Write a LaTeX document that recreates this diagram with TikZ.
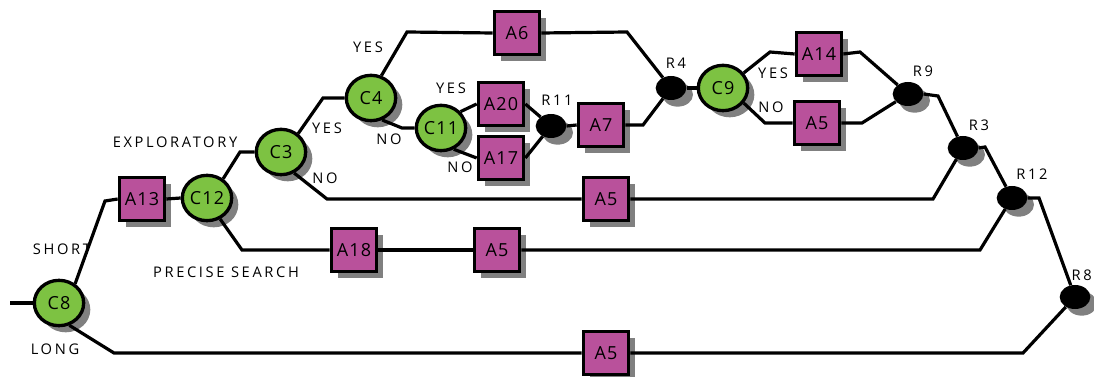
\documentclass[tikz,border=0pt]{standalone}
\usepackage{fontspec}
\setmainfont{Open Sans}
\newfontfamily\nodefont[LetterSpace=6]{Open Sans}
\newfontfamily\labelfont[LetterSpace=18]{Open Sans}
\usetikzlibrary{shapes.geometric,shadows}
\definecolor{condgreen}{RGB}{125,194,66}
\definecolor{actpurple}{RGB}{185,81,155}
\definecolor{shadowgray}{RGB}{128,128,128}
\tikzset{
  castshadow/.style={drop shadow={shadow xshift=5pt,shadow yshift=-5pt,fill=shadowgray,opacity=1}},
  cond/.style={ellipse,draw=black,line width=2.5pt,fill=condgreen,minimum width=37pt,minimum height=34pt,inner sep=0pt,castshadow,font=\nodefont\fontsize{13.5pt}{13.5pt}\selectfont},
  act/.style={rectangle,draw=black,line width=2.5pt,fill=actpurple,minimum width=34pt,minimum height=32pt,inner sep=0pt,castshadow,font=\nodefont\fontsize{13.5pt}{13.5pt}\selectfont},
  junct/.style={ellipse,fill=black,minimum width=23pt,minimum height=18pt,inner sep=0pt,castshadow},
  lbl/.style={font=\labelfont\fontsize{11pt}{11pt}\selectfont,inner sep=0pt},
  wire/.style={line width=2.4pt,line join=miter}
}
\begin{document}
\begin{tikzpicture}[x=0.75pt,y=-0.75pt]
\useasboundingbox (0,0) rectangle (1094,377);

% conditions
\node[cond] (c8) at (59,303) {C8};
\node[cond] (c12) at (207,198) {C12};
\node[cond] (c3) at (281,152) {C3};
\node[cond] (c4) at (371,98) {C4};
\node[cond] (c11) at (441,128) {C11};
\node[cond] (c9) at (723,88) {C9};

% activities
\node[act] (a13) at (142,199) {A13};
\node[act] (a6) at (517,33) {A6};
\node[act] (a20) at (501,104) {A20};
\node[act] (a17) at (501,158) {A17};
\node[act] (a7) at (601,125) {A7};
\node[act] (a14) at (819,54) {A14};
\node[act] (a5a) at (817,123) {A5};
\node[act] (a5b) at (606,199) {A5};
\node[act] (a18) at (354,250) {A18};
\node[act] (a5c) at (497,250) {A5};
\node[act] (a5d) at (606,353) {A5};

% junctions
\node[junct] (r11) at (551,126) {};
\node[junct] (r4) at (671,88) {};
\node[junct] (r9) at (908,94) {};
\node[junct] (r3) at (963,148) {};
\node[junct] (r12) at (1012,198) {};
\node[junct] (r8) at (1075,297) {};

% bend points
\coordinate (in) at (10,303);
\coordinate (k1) at (105,201);
\coordinate (k2) at (114,353);
\coordinate (k3) at (1023,353);
\coordinate (k4) at (240,152);
\coordinate (k5) at (242,250);
\coordinate (k6) at (980,250);
\coordinate (k7) at (323,98);
\coordinate (k8) at (327,199);
\coordinate (k9) at (933,199);
\coordinate (k10) at (407,32);
\coordinate (k11) at (627,32);
\coordinate (k12) at (402,128);
\coordinate (k13) at (643,125);
\coordinate (k14) at (770,52);
\coordinate (k15) at (765,123);
\coordinate (k16) at (860,52);
\coordinate (k17) at (862,123);
\coordinate (k18) at (938,96);
\coordinate (k19) at (985,147);
\coordinate (k20) at (1039,198);

% connectors
\draw[wire] (in) -- (c8.west);
\draw[wire] (c8.50) -- (k1) -- (a13.west);
\draw[wire] (c8.-65) -- (k2) -- (a5d.west);
\draw[wire] (a5d.east) -- (k3) -- (r8);
\draw[wire] (a13.east) -- (c12.west);
\draw[wire] (c12.50) -- (k4) -- (c3.west);
\draw[wire] (c12.-58) -- (k5) -- (a18.west);
\draw[wire] (a18.east) -- (a5c.west);
\draw[wire] (a5c.east) -- (k6) -- (r12);
\draw[wire] (c3.47) -- (k7) -- (c4.west);
\draw[wire] (c3.-58) -- (k8) -- (a5b.west);
\draw[wire] (a5b.east) -- (k9) -- (r3);
\draw[wire] (c4.65) -- (k10) -- (a6.west);
\draw[wire] (a6.east) -- (k11) -- (r4);
\draw[wire] (c4.-63) -- (k12) -- (c11.west);
\draw[wire] (c11.40) -- (a20.west);
\draw[wire] (c11.-59) -- (a17.west);
\draw[wire] (a20.east) -- (r11);
\draw[wire] (a17.east) -- (r11);
\draw[wire] (r11.east) -- (a7.west);
\draw[wire] (a7.east) -- (k13) -- (r4);
\draw[wire] (r4.east) -- (c9.west);
\draw[wire] (c9.36) -- (k14) -- (a14.west);
\draw[wire] (c9.-36) -- (k15) -- (a5a.west);
\draw[wire] (a14.east) -- (k16) -- (r9);
\draw[wire] (a5a.east) -- (k17) -- (r9);
\draw[wire] (r9.east) -- (k18) -- (r3);
\draw[wire] (r3.east) -- (k19) -- (r12);
\draw[wire] (r12.east) -- (k20) -- (r8);

% branch and junction labels
\node[lbl] (tshort) at (62,249) {SHORT};
\node[lbl] (tlong) at (55,349) {LONG};
\node[lbl] (tprecise) at (226,272) {PRECISE SEARCH};
\node[lbl] (texpl) at (175,142) {EXPLORATORY};
\node[lbl] (tyes3) at (327,128) {YES};
\node[lbl] (tno3) at (325,178) {NO};
\node[lbl] (tyes4) at (368,47) {YES};
\node[lbl] (tno4) at (389,139) {NO};
\node[lbl] (tyes11) at (451,88) {YES};
\node[lbl] (tno11) at (460,167) {NO};
\node[lbl] (tr11) at (557,100) {R11};
\node[lbl] (tr4) at (676,63) {R4};
\node[lbl] (tyes9) at (773,73) {YES};
\node[lbl] (tno9) at (771,107) {NO};
\node[lbl] (tr9) at (923,71) {R9};
\node[lbl] (tr3) at (979,125) {R3};
\node[lbl] (tr12) at (1032,174) {R12};
\node[lbl,anchor=east] (tr8) at (1092,275) {R8};
\end{tikzpicture}
\end{document}
